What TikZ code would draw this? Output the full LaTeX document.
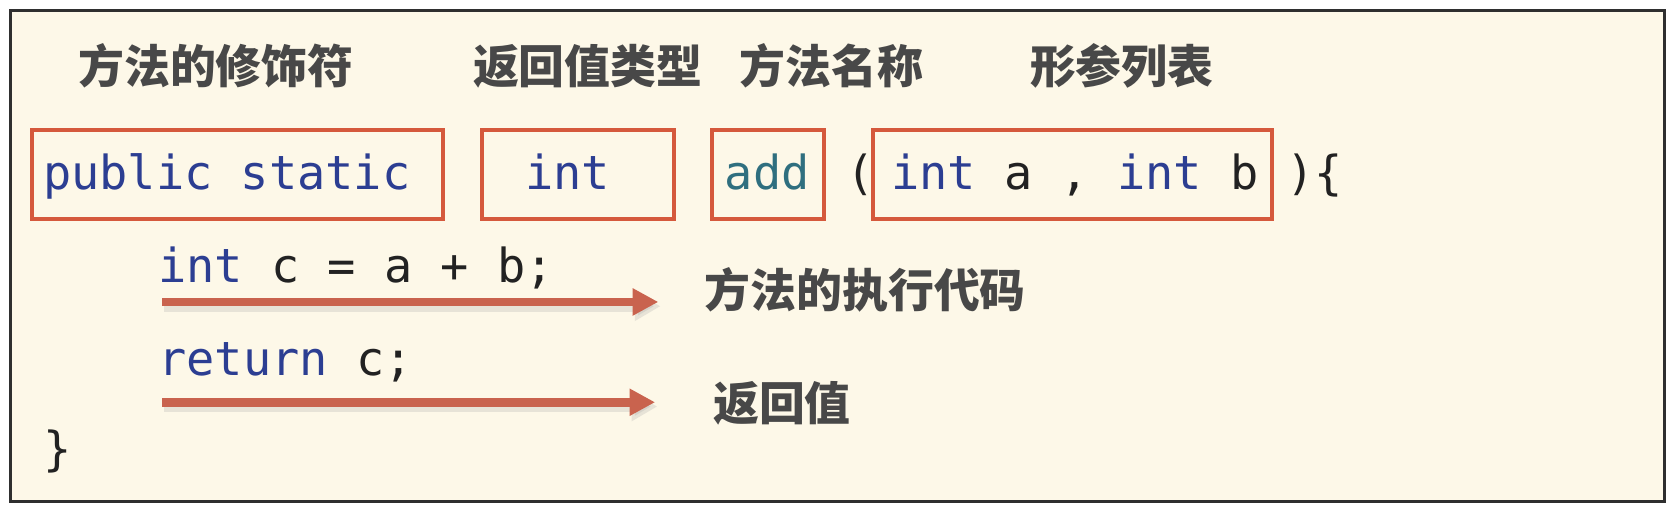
\documentclass[tikz,border=0pt]{standalone}
\usepackage{fontspec}
\setmonofont{DejaVu Sans Mono}
\newfontfamily\cjk{Noto Sans CJK SC}
\usetikzlibrary{arrows.meta}
\definecolor{bg}{HTML}{FDF8E8}
\definecolor{framec}{HTML}{2F2F2F}
\definecolor{boxred}{HTML}{D5593C}
\definecolor{kw}{HTML}{2C3E92}
\definecolor{fn}{HTML}{2F6F7F}
\definecolor{codefg}{HTML}{222222}
\definecolor{lbl}{HTML}{484848}
\definecolor{arr}{HTML}{C9634E}
\tikzset{
  lbltext/.style={inner sep=0pt, anchor=west, text=lbl, font=\cjk\bfseries\fontsize{21.5}{24}\selectfont},
  code/.style={inner sep=0pt, anchor=base west, text=codefg, font=\ttfamily\fontsize{22}{26}\selectfont},
  redbox/.style={draw=boxred, line width=2pt},
  bigarrow/.style={draw=arr, line width=4pt, -{Triangle[length=12pt,width=12pt]}},
  arrshadow/.style={draw=black!35, opacity=0.25, line width=5pt, -{Triangle[length=12pt,width=13pt]}},
}
\newcommand{\kwd}[1]{\textcolor{kw}{#1}}
\begin{document}
\begin{tikzpicture}[x=0.5pt,y=-0.5pt]
\useasboundingbox (0,0) rectangle (1568,483);
\draw[draw=framec, fill=bg, line width=1.6pt] (10,10) rectangle (1560,470);
% header labels
\node[lbltext] (h1) at (73,62) {方法的修饰符};
\node[lbltext] (h2) at (443,62) {返回值类型};
\node[lbltext] (h3) at (693,62) {方法名称};
\node[lbltext] (h4) at (965,62) {形参列表};
% boxes
\draw[redbox] (30,122) rectangle (415,205);
\draw[redbox] (452,122) rectangle (632,205);
\draw[redbox] (667,122) rectangle (772,205);
\draw[redbox] (818,122) rectangle (1192,205);
% code
\node[code] (c1) at (40,178) {\kwd{public static}};
\node[code] (c2) at (492,178) {\kwd{int}};
\node[code] (c3) at (679,178) {\textcolor{fn}{add}};
\node[code] (c4) at (793,178) {(};
\node[code] (c5) at (835,178) {\kwd{int} a , \kwd{int} b};
\node[code] (c6) at (1205,178) {)\{};
\node[code] (c7) at (148,265) {\kwd{int} c = a + b;};
\node[code] (c8) at (148,352) {\kwd{return} c;};
\node[code] (c9) at (40,436) {\}};
% arrows
\coordinate (a1s) at (152,283);
\coordinate (a1e) at (617,283);
\coordinate (a2s) at (152,377);
\coordinate (a2e) at (614,377);
\draw[arrshadow, transform canvas={xshift=1pt,yshift=-2pt}] (a1s) -- (a1e);
\draw[arrshadow, transform canvas={xshift=1pt,yshift=-2pt}] (a2s) -- (a2e);
\draw[bigarrow] (a1s) -- (a1e);
\draw[bigarrow] (a2s) -- (a2e);
\node[lbltext] (l1) at (660,272) {方法的执行代码};
\node[lbltext] (l2) at (668,378) {返回值};
\end{tikzpicture}
\end{document}
